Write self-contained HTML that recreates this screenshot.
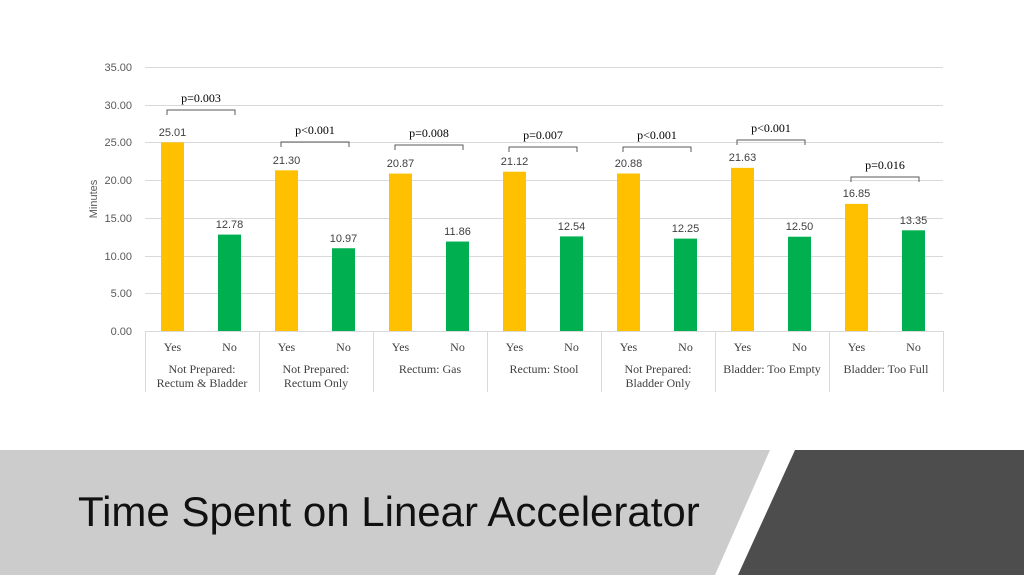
<!DOCTYPE html>
<html><head><style>
body{margin:0;width:1024px;height:575px;overflow:hidden;background:#fff;}
svg{display:block}
.v{font-family:"Liberation Sans",sans-serif;font-size:11px;fill:#404040;text-anchor:middle}
.s{font-family:"Liberation Serif",serif;font-size:12px;fill:#404040;text-anchor:middle}
.p{font-family:"Liberation Serif",serif;font-size:12px;fill:#000;text-anchor:middle}
.br{fill:none;stroke:#595959;stroke-width:1}
</style></head><body>
<svg width="1024" height="575" xmlns="http://www.w3.org/2000/svg">
<g stroke="#d9d9d9" stroke-width="1">
<line x1="145" x2="943" y1="67.5" y2="67.5"/><line x1="145" x2="943" y1="105.5" y2="105.5"/>
<line x1="145" x2="943" y1="142.5" y2="142.5"/><line x1="145" x2="943" y1="180.5" y2="180.5"/>
<line x1="145" x2="943" y1="218.5" y2="218.5"/><line x1="145" x2="943" y1="256.5" y2="256.5"/>
<line x1="145" x2="943" y1="293.5" y2="293.5"/>
<line x1="145.5" x2="145.5" y1="331" y2="392"/><line x1="259.5" x2="259.5" y1="331" y2="392"/>
<line x1="373.5" x2="373.5" y1="331" y2="392"/><line x1="487.5" x2="487.5" y1="331" y2="392"/>
<line x1="601.5" x2="601.5" y1="331" y2="392"/><line x1="715.5" x2="715.5" y1="331" y2="392"/>
<line x1="829.5" x2="829.5" y1="331" y2="392"/><line x1="943.5" x2="943.5" y1="331" y2="392"/>
</g>
<g font-family="Liberation Sans, sans-serif" font-size="11" fill="#595959" text-anchor="end">
<text x="132" y="71">35.00</text><text x="132" y="109">30.00</text><text x="132" y="146">25.00</text>
<text x="132" y="184">20.00</text><text x="132" y="222">15.00</text><text x="132" y="260">10.00</text>
<text x="132" y="297">5.00</text><text x="132" y="335">0.00</text>
</g>
<text transform="translate(97,199) rotate(-90)" font-family="Liberation Sans, sans-serif" font-size="11" fill="#595959" text-anchor="middle">Minutes</text>

<g fill="#ffc000">
<rect x="161" y="142.35" width="23" height="188.65"/>
<rect x="275" y="170.33" width="23" height="160.67"/>
<rect x="389" y="173.58" width="23" height="157.42"/>
<rect x="503" y="171.69" width="23" height="159.31"/>
<rect x="617" y="173.50" width="23" height="157.50"/>
<rect x="731" y="167.85" width="23" height="163.15"/>
<rect x="845" y="203.90" width="23" height="127.10"/>
</g>
<g fill="#00b050">
<rect x="218" y="234.60" width="23" height="96.40"/>
<rect x="332" y="248.25" width="23" height="82.75"/>
<rect x="446" y="241.54" width="23" height="89.46"/>
<rect x="560" y="236.41" width="23" height="94.59"/>
<rect x="674" y="238.60" width="23" height="92.40"/>
<rect x="788" y="236.71" width="23" height="94.29"/>
<rect x="902" y="230.30" width="23" height="100.70"/>
</g>
<line x1="145" x2="943" y1="331.5" y2="331.5" stroke="#d9d9d9"/>

<text class="v" x="172.5" y="136">25.01</text><text class="v" x="229.5" y="228">12.78</text>
<text class="v" x="286.5" y="164">21.30</text><text class="v" x="343.5" y="242">10.97</text>
<text class="v" x="400.5" y="167">20.87</text><text class="v" x="457.5" y="235">11.86</text>
<text class="v" x="514.5" y="165">21.12</text><text class="v" x="571.5" y="230">12.54</text>
<text class="v" x="628.5" y="167">20.88</text><text class="v" x="685.5" y="232">12.25</text>
<text class="v" x="742.5" y="161">21.63</text><text class="v" x="799.5" y="230">12.50</text>
<text class="v" x="856.5" y="197">16.85</text><text class="v" x="913.5" y="224">13.35</text>

<path class="br" d="M167 115V110H235V115"/><text class="p" x="201" y="102">p=0.003</text>
<path class="br" d="M281 147V142H349V147"/><text class="p" x="315" y="134">p&lt;0.001</text>
<path class="br" d="M395 150V145H463V150"/><text class="p" x="429" y="137">p=0.008</text>
<path class="br" d="M509 152V147H577V152"/><text class="p" x="543" y="139">p=0.007</text>
<path class="br" d="M623 152V147H691V152"/><text class="p" x="657" y="139">p&lt;0.001</text>
<path class="br" d="M737 145V140H805V145"/><text class="p" x="771" y="132">p&lt;0.001</text>
<path class="br" d="M851 182V177H919V182"/><text class="p" x="885" y="169">p=0.016</text>

<text class="s" x="172.5" y="351">Yes</text><text class="s" x="229.5" y="351">No</text>
<text class="s" x="286.5" y="351">Yes</text><text class="s" x="343.5" y="351">No</text>
<text class="s" x="400.5" y="351">Yes</text><text class="s" x="457.5" y="351">No</text>
<text class="s" x="514.5" y="351">Yes</text><text class="s" x="571.5" y="351">No</text>
<text class="s" x="628.5" y="351">Yes</text><text class="s" x="685.5" y="351">No</text>
<text class="s" x="742.5" y="351">Yes</text><text class="s" x="799.5" y="351">No</text>
<text class="s" x="856.5" y="351">Yes</text><text class="s" x="913.5" y="351">No</text>

<text class="s" x="202" y="373">Not Prepared:</text><text class="s" x="202" y="387">Rectum &amp; Bladder</text>
<text class="s" x="316" y="373">Not Prepared:</text><text class="s" x="316" y="387">Rectum Only</text>
<text class="s" x="430" y="373">Rectum: Gas</text>
<text class="s" x="544" y="373">Rectum: Stool</text>
<text class="s" x="658" y="373">Not Prepared:</text><text class="s" x="658" y="387">Bladder Only</text>
<text class="s" x="772" y="373">Bladder: Too Empty</text>
<text class="s" x="886" y="373">Bladder: Too Full</text>

<polygon points="0,450 770,450 715,575 0,575" fill="#cccccc"/>
<polygon points="795,450 1024,450 1024,575 738,575" fill="#4d4d4d"/>
<text x="78" y="526" font-family="Liberation Sans, sans-serif" font-size="42" fill="#111">Time Spent on Linear Accelerator</text>
</svg>
</body></html>
